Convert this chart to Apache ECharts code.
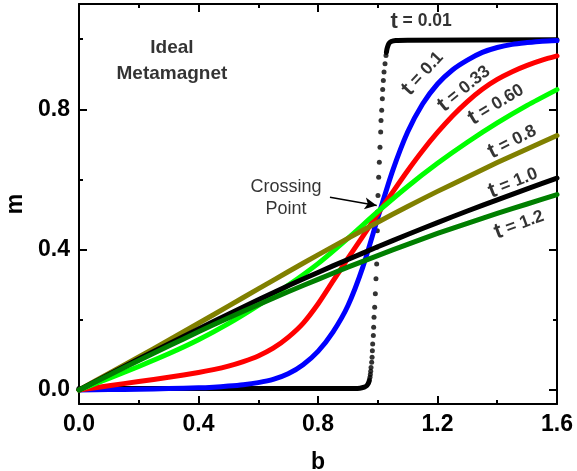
<!DOCTYPE html>
<html>
<head>
<meta charset="utf-8">
<title>Ideal Metamagnet</title>
<script src="https://cdn.jsdelivr.net/npm/echarts@6.0.0/dist/echarts.min.js"></script>
<style>
  html, body { margin: 0; padding: 0; background: #fff; }
  #chart { width: 577px; height: 471px; }
</style>
</head>
<body>
<div id="chart"></div>
<script>
// Magnetisation m versus reduced field b for several reduced temperatures t.
// Each series is a list of [b, m] pairs.

// t = 0.01 : flat low branch, the steep step (plotted as dots), flat high branch
const t001Low = [[0, 0.004], [0.5, 0.004], [0.9, 0.004], [0.94, 0.005], [0.955, 0.008], [0.963, 0.012], [0.968, 0.018], [0.971, 0.025]];
const t001Step = [
  [0.972, 0.029], [0.974, 0.036], [0.9752, 0.044], [0.9764, 0.053], [0.9775, 0.064],
  [0.9797, 0.079], [0.981, 0.093], [0.982, 0.112], [0.983, 0.131], [0.9852, 0.155],
  [0.9863, 0.179], [0.9875, 0.207], [0.9897, 0.236], [0.9919, 0.274], [0.9941, 0.317],
  [0.9964, 0.359], [0.997, 0.407], [0.9986, 0.454], [0.999, 0.507], [1.0008, 0.554],
  [1.0031, 0.606], [1.0053, 0.649], [1.0075, 0.692], [1.0098, 0.735], [1.0109, 0.768],
  [1.0132, 0.797], [1.0154, 0.830], [1.0165, 0.856], [1.0187, 0.882], [1.021, 0.906],
  [1.0243, 0.930], [1.0276, 0.953]
];
const t001High = [[1.029, 0.962], [1.031, 0.972], [1.034, 0.981], [1.038, 0.988], [1.045, 0.993], [1.06, 0.996], [1.1, 0.997], [1.6, 0.998]];

const t01 = [
  [0, 0], [0.1, 0.001], [0.2, 0.002], [0.3, 0.004], [0.4, 0.006], [0.45, 0.008], [0.5, 0.011],
  [0.55, 0.015], [0.6, 0.021], [0.65, 0.03], [0.7, 0.046], [0.75, 0.072], [0.8, 0.11],
  [0.85, 0.165], [0.9, 0.24], [0.95, 0.35], [1.0, 0.49], [1.05, 0.625], [1.1, 0.735],
  [1.15, 0.815], [1.2, 0.872], [1.25, 0.912], [1.3, 0.94], [1.35, 0.962], [1.4, 0.976],
  [1.45, 0.985], [1.5, 0.99], [1.55, 0.994], [1.6, 0.996]
];
const t033 = [
  [0, 0], [0.1, 0.012], [0.2, 0.024], [0.3, 0.036], [0.4, 0.05], [0.45, 0.058], [0.5, 0.068],
  [0.55, 0.081], [0.6, 0.097], [0.65, 0.119], [0.7, 0.15], [0.75, 0.19], [0.8, 0.245],
  [0.85, 0.31], [0.9, 0.375], [0.95, 0.438], [1.0, 0.502], [1.05, 0.564], [1.1, 0.625],
  [1.15, 0.682], [1.2, 0.734], [1.25, 0.781], [1.3, 0.822], [1.35, 0.857], [1.4, 0.885],
  [1.45, 0.907], [1.5, 0.925], [1.55, 0.94], [1.6, 0.952]
];
const t060 = [
  [0, 0], [0.1, 0.033], [0.2, 0.067], [0.3, 0.103], [0.4, 0.143], [0.5, 0.189], [0.6, 0.241],
  [0.7, 0.298], [0.8, 0.36], [0.9, 0.432], [1.0, 0.508], [1.1, 0.58], [1.2, 0.646],
  [1.3, 0.706], [1.4, 0.761], [1.5, 0.811], [1.6, 0.856]
];
const t08 = [
  [0, 0], [0.1, 0.047], [0.2, 0.094], [0.3, 0.142], [0.4, 0.19], [0.5, 0.239], [0.6, 0.288],
  [0.7, 0.337], [0.8, 0.385], [0.9, 0.432], [1.0, 0.478], [1.1, 0.523], [1.2, 0.566],
  [1.3, 0.607], [1.4, 0.648], [1.5, 0.687], [1.6, 0.725]
];
const t10 = [
  [0, 0], [0.1, 0.044], [0.2, 0.088], [0.3, 0.131], [0.4, 0.174], [0.5, 0.216], [0.6, 0.257],
  [0.7, 0.297], [0.8, 0.335], [0.9, 0.372], [1.0, 0.408], [1.1, 0.443], [1.2, 0.477],
  [1.3, 0.51], [1.4, 0.542], [1.5, 0.573], [1.6, 0.604]
];
const t12 = [
  [0, 0], [0.1, 0.042], [0.2, 0.084], [0.3, 0.125], [0.4, 0.166], [0.5, 0.205], [0.6, 0.243],
  [0.7, 0.28], [0.8, 0.315], [0.9, 0.35], [1.0, 0.383], [1.1, 0.415], [1.2, 0.446],
  [1.3, 0.475], [1.4, 0.503], [1.5, 0.53], [1.6, 0.557]
];

// Curve labels: text, anchor [b, m], rotation in degrees
const curveLabels = [
  ['0.01', [1.145, 1.050], 0],
  ['0.1', [1.151, 0.902], 47],
  ['0.33', [1.289, 0.859], 39],
  ['0.60', [1.396, 0.814], 31],
  ['0.8', [1.450, 0.708], 27],
  ['1.0', [1.453, 0.591], 22],
  ['1.2', [1.473, 0.472], 20]
];

const xTicks = [0, 0.4, 0.8, 1.2, 1.6];
const yTicksMajor = [0, 0.4, 0.8];
const yTicksMinor = [0.2, 0.6, 1.0];

const FONT = '"Liberation Sans", Arial, Helvetica, sans-serif';
const ink = '#000000';
const plotRect = { left: 79, right: 20, top: 4, bottom: 67, containLabel: false, outerBoundsMode: 'none' };

const chart = echarts.init(document.getElementById('chart'), null, { renderer: 'canvas' });

const frameLine = { show: true, onZero: false, lineStyle: { color: ink, width: 2 } };
const tickStyle = { color: ink, width: 2 };
const fmt = v => Number(v).toFixed(1);
const tickFont = { color: ink, fontSize: 23, fontWeight: 'bold', fontFamily: FONT };

// y axes: major ticks live in grid 0, minor ticks in an identical grid 1
function yAxisDef(gridIndex, position, ticks, len, withLabels, withLine) {
  return {
    type: 'value', gridIndex: gridIndex, position: position, min: -0.04, max: 1.1,
    axisLine: withLine ? frameLine : { show: false, onZero: false },
    axisTick: { show: true, inside: true, length: len, customValues: ticks, lineStyle: tickStyle },
    axisLabel: withLabels
      ? Object.assign({ show: true, customValues: ticks, formatter: fmt, margin: 9 }, tickFont)
      : { show: false },
    splitLine: { show: false },
    minorTick: { show: false }
  };
}

function xAxisDef(position, withLabels) {
  return {
    type: 'value', gridIndex: 0, position: position, min: xTicks[0], max: xTicks[xTicks.length - 1], interval: 0.4,
    axisLine: frameLine,
    axisTick: { show: true, inside: true, length: 8, lineStyle: tickStyle },
    minorTick: { show: true, splitNumber: 2, length: 4, lineStyle: tickStyle },
    axisLabel: withLabels
      ? Object.assign({ show: true, formatter: fmt, margin: 9 }, tickFont)
      : { show: false },
    splitLine: { show: false }
  };
}

const xBottom = xAxisDef('bottom', true);
xBottom.name = 'b';
xBottom.nameLocation = 'middle';
xBottom.nameGap = 47;
xBottom.nameTextStyle = { color: ink, fontSize: 23, fontWeight: 'bold', fontFamily: FONT };

const yLeft = yAxisDef(0, 'left', yTicksMajor, 8, true, true);
yLeft.name = 'm';
yLeft.nameLocation = 'middle';
yLeft.nameGap = 44;
yLeft.nameRotate = 90;
yLeft.nameTextStyle = { color: ink, fontSize: 23, fontWeight: 'bold', fontFamily: FONT };

function curve(name, data, color) {
  return {
    name: name, type: 'line', data: data, smooth: 0.25, showSymbol: false, symbol: 'none',
    lineStyle: { color: color, width: 5, cap: 'round', join: 'round' },
    itemStyle: { color: color }, silent: true, z: 3
  };
}

const labelItems = curveLabels.map(([val, pos, rot]) => ({
  value: pos,
  label: { formatter: '{t|t}{v| = ' + val + '}', rotate: rot }
}));

const option = {
  animation: false,
  backgroundColor: '#ffffff',
  grid: [plotRect, Object.assign({}, plotRect)],
  xAxis: [
    xBottom,
    xAxisDef('top', false),
    { type: 'value', gridIndex: 1, min: 0, max: 1.6, show: false }
  ],
  yAxis: [
    yLeft,
    yAxisDef(0, 'right', yTicksMajor, 8, false, true),
    yAxisDef(1, 'left', yTicksMinor, 4, false, false),
    yAxisDef(1, 'right', yTicksMinor, 4, false, false)
  ],
  series: [
    // t = 0.01
    {
      name: 't001-low', type: 'line', data: t001Low, showSymbol: false, symbol: 'none', smooth: 0.3,
      lineStyle: { color: ink, width: 5, cap: 'round' }, silent: true, z: 2
    },
    {
      name: 't001-step', type: 'scatter', data: t001Step, symbol: 'circle', symbolSize: 5,
      itemStyle: { color: ink }, silent: true, z: 2
    },
    {
      name: 't001-high', type: 'line', data: t001High, showSymbol: false, symbol: 'none', smooth: 0.3,
      lineStyle: { color: ink, width: 5, cap: 'round' }, silent: true, z: 2
    },
    curve('t = 0.1', t01, '#0000ff'),
    curve('t = 0.33', t033, '#ff0000'),
    curve('t = 0.60', t060, '#00ff00'),
    curve('t = 0.8', t08, '#808000'),
    curve('t = 1.0', t10, '#000000'),
    curve('t = 1.2', t12, '#007f00'),
    // curve labels
    {
      name: 'labels', type: 'scatter', symbolSize: 0, silent: true, z: 10,
      data: labelItems,
      label: {
        show: true, position: 'inside', color: ink, fontFamily: FONT,
        rich: {
          t: { fontSize: 22, fontWeight: 'bold', color: ink, fontFamily: FONT },
          v: { fontSize: 17.5, fontWeight: 'bold', color: ink, fontFamily: FONT }
        }
      }
    },
    // annotations
    {
      name: 'notes', type: 'scatter', symbolSize: 0, silent: true, z: 10,
      data: [
        { value: [0.311, 0.939], label: { formatter: 'Ideal\nMetamagnet', fontSize: 19, fontWeight: 'bold', lineHeight: 26 } },
        { value: [0.693, 0.548], label: { formatter: 'Crossing\nPoint', fontSize: 18, fontWeight: 'normal', lineHeight: 22 } }
      ],
      label: { show: true, position: 'inside', color: ink, fontFamily: FONT, align: 'center' },
      markLine: {
        silent: true, symbol: ['none', 'arrow'], symbolSize: [9, 12],
        lineStyle: { color: ink, width: 1.5, type: 'solid' },
        label: { show: false },
        data: [[{ coord: [0.84, 0.549] }, { coord: [0.9965, 0.526] }]]
      }
    }
  ]
};

chart.setOption(option);
</script>
</body>
</html>
